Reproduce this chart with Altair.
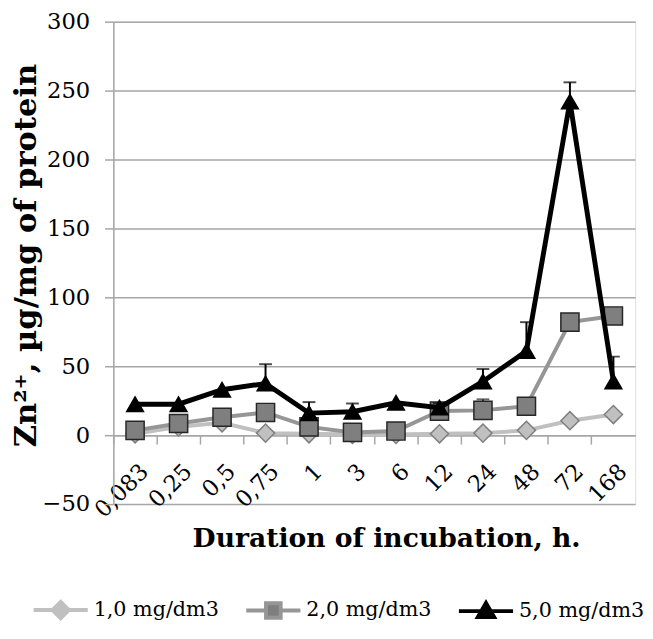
import altair as alt
import pandas as pd

categories = ["0,083", "0,25", "0,5", "0,75", "1", "3", "6", "12", "24", "48", "72", "168"]
series_names = ["1,0 mg/dm3", "2,0 mg/dm3", "5,0 mg/dm3"]

values_1 = [1, 6, 9, 1.5, 1, 0.5, 0.5, 1, 1.5, 3.5, 10.5, 15]
values_2 = [3.5, 8.5, 13, 16.5, 6, 2, 3, 17.5, 18, 21, 82, 86.5]
values_5 = [22.5, 22.5, 33, 37.5, 16, 17, 23.5, 20, 39, 61, 242, 39]

errors_1 = [0, 0, 0, 0, 0, 0, 0, 0, 0, 0, 0, 0]
errors_2 = [0, 0, 0, 0, 0, 0, 0, 0, 8, 0, 4, 0]
errors_5 = [0, 0, 0, 14, 8, 6, 0, 3, 9, 21, 14, 18]

y_ticks = [-50, 0, 50, 100, 150, 200, 250, 300]

# styles
line_colors = ["#c0c0c0", "#969696", "#000000"]
line_widths = [4, 4, 5]
marker_shapes = ["diamond", "square", "triangle-up"]
marker_fills = ["#c0c0c0", "#7f7f7f", "#000000"]
marker_strokes = ["#7f7f7f", "#262626", "#000000"]
marker_sizes = [340, 340, 290]
error_colors = ["#7f7f7f", "#262626", "#000000"]
legend_paths = [
    "M-1,0L-0.3,0M0.3,0L1,0M0,-0.3L0.3,0L0,0.3L-0.3,0Z",
    "M-1,0L-0.27,0M0.27,0L1,0M-0.27,-0.27L0.27,-0.27L0.27,0.27L-0.27,0.27Z",
    "M-1,0L1,0M0,-0.3L0.3,0.22L-0.3,0.22Z",
]

rows = []
for name, vals, errs in zip(series_names, [values_1, values_2, values_5], [errors_1, errors_2, errors_5]):
    for c, v, e in zip(categories, vals, errs):
        rows.append({"series": name, "cat": c, "value": v, "err": e})
df = pd.DataFrame(rows)

PLOT_W = 530
PLOT_H = 490
Y_MIN, Y_MAX = -50, 300
zero_offset = -PLOT_H * (0 - Y_MIN) / (Y_MAX - Y_MIN)

SERIF = "DejaVu Serif"
GRID = "#a6a6a6"

x_scale = alt.Scale(domain=categories, paddingInner=0, paddingOuter=0)
x_axis = alt.Axis(
    offset=zero_offset,
    bandPosition=0,
    grid=False,
    domainColor=GRID,
    domainWidth=1.5,
    tickColor=GRID,
    tickWidth=1.5,
    tickSize=9,
    labelAngle=-45,
    labelAlign="right",
    labelBaseline="middle",
    labelPadding=24,
    labelOffset=10,
    labelFont=SERIF,
    labelFontSize=23,
    labelColor="#000000",
    title="Duration of incubation, h.",
    titleFont=SERIF,
    titleFontSize=27,
    titleFontWeight="bold",
    titleColor="#000000",
    titleX=277,
    titleY=113,
    titleBaseline="alphabetic",
    titleAlign="center",
)
y_scale = alt.Scale(domain=[Y_MIN, Y_MAX], nice=False, zero=False)
y_axis = alt.Axis(
    values=y_ticks,
    grid=True,
    gridColor=GRID,
    gridWidth=1.5,
    domainColor=GRID,
    domainWidth=1.5,
    tickColor=GRID,
    tickWidth=1.5,
    tickSize=9,
    labelPadding=15,
    labelFont=SERIF,
    labelFontSize=23,
    labelColor="#000000",
    title="Zn²⁺, µg/mg of protein",
    titleFont=SERIF,
    titleFontSize=31,
    titleFontWeight="bold",
    titleColor="#000000",
    titlePadding=0,
    titleY=237,
)

X = alt.X("cat:N", sort=categories, scale=x_scale, axis=x_axis)

layers = []
for i, name in enumerate(series_names):
    base = alt.Chart(df).transform_filter(alt.datum.series == name)
    line = base.mark_line(color=line_colors[i], strokeWidth=line_widths[i]).encode(
        x=X, y=alt.Y("value:Q", scale=y_scale, axis=y_axis)
    )
    err_base = base.transform_filter(alt.datum.err > 0).transform_calculate(top="datum.value + datum.err")
    err_rule = err_base.mark_rule(color=error_colors[i], strokeWidth=2).encode(
        x=X, y=alt.Y("value:Q", scale=y_scale, axis=y_axis), y2="top:Q"
    )
    err_cap = err_base.mark_tick(color=error_colors[i], thickness=2, size=13, orient="horizontal").encode(
        x=X, y=alt.Y("top:Q", scale=y_scale, axis=y_axis)
    )
    pts = base.mark_point(
        shape=marker_shapes[i], filled=True, fill=marker_fills[i], stroke=marker_strokes[i],
        strokeWidth=1.5, size=marker_sizes[i], opacity=1
    ).encode(x=X, y=alt.Y("value:Q", scale=y_scale, axis=y_axis))
    layers += [line, err_rule, err_cap, pts]

leg = alt.Legend(
    orient="none", legendX=-83, legendY=568, direction="horizontal", title=None,
    labelFont=SERIF, labelFontSize=21, labelColor="#000000", labelOffset=4,
    columnPadding=19, symbolSize=3025, symbolStrokeWidth=4,
)
legend_layer = alt.Chart(df).transform_filter("datum.value < -1000").mark_point(
    filled=True, strokeWidth=4, opacity=1
).encode(
    fill=alt.Fill("series:N", scale=alt.Scale(domain=series_names, range=marker_fills), legend=leg),
    stroke=alt.Stroke("series:N", scale=alt.Scale(domain=series_names, range=line_colors), legend=leg),
    shape=alt.Shape("series:N", scale=alt.Scale(domain=series_names, range=legend_paths), legend=leg),
)
layers.append(legend_layer)

chart = alt.layer(*layers).properties(
    width=PLOT_W, height=PLOT_H,
    padding={"left": 2, "top": -2, "right": 0, "bottom": 0},
).configure_view(stroke=None).configure(background="white")

chart.save("out.html", embed_options={"renderer": "svg", "actions": False})
